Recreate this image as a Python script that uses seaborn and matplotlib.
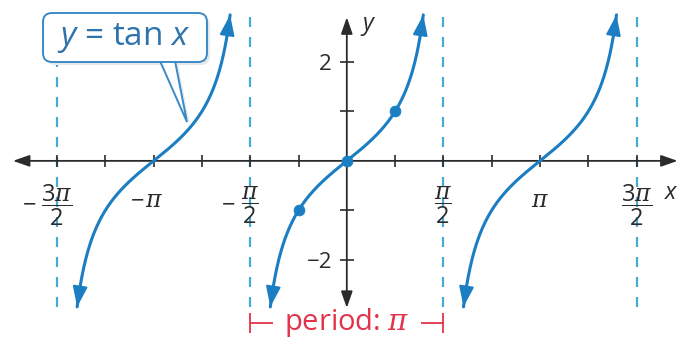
import numpy as np
import pandas as pd
import matplotlib
matplotlib.use("Agg")
import matplotlib.pyplot as plt
import seaborn as sns
from matplotlib.patches import FancyBboxPatch, Polygon
from matplotlib.transforms import Affine2D

# ---- data -------------------------------------------------------------
branch_centers = [-np.pi, 0.0, np.pi]          # zeros of tan x shown
branch_limit = 2.95                            # |tan x| where each branch ends
asymptotes = [-1.5 * np.pi, -0.5 * np.pi, 0.5 * np.pi, 1.5 * np.pi]
key_x = [-np.pi / 4, 0.0, np.pi / 4]
key_y = [-1.0, 0.0, 1.0]
x_tick_steps = [-6, -5, -4, -3, -2, -1, 1, 2, 3, 4, 5, 6]   # multiples of pi/4
x_label_steps = [-6, -4, -2, 2, 4, 6]
x_label_text = [r"$\dfrac{3\pi}{2}$", r"$\pi$", r"$\dfrac{\pi}{2}$",
                r"$\dfrac{\pi}{2}$", r"$\pi$", r"$\dfrac{3\pi}{2}$"]
y_tick_pos = [-2, -1, 1, 2]
y_label_pos = [2, -2]
y_label_text = ["2", "\u22122"]

# ---- style ------------------------------------------------------------
sns.set_style("white")
plt.rcParams["font.family"] = ["Open Sans", "DejaVu Sans"]
plt.rcParams["mathtext.fontset"] = "custom"
plt.rcParams["mathtext.rm"] = "Open Sans"
plt.rcParams["mathtext.it"] = "DejaVu Serif:italic"
plt.rcParams["mathtext.sf"] = "Open Sans:italic"

CURVE = "#1b7dc2"
ASYM = "#45aad6"
AXIS = "#2b2b2b"
RED = "#e2334a"
CALLOUT = "#3b8ac6"

fig = plt.figure(figsize=(6.85, 3.45), dpi=100)
ax = fig.add_axes([0, 0, 1, 1])
ax.set_xlim(-5.64, 5.50)
ax.set_ylim(-3.72, 3.25)
ax.axis("off")

# ---- tangent branches -------------------------------------------------
half = np.arctan(branch_limit)
rows = []
for i, c in enumerate(branch_centers):
    xs = np.linspace(c - half, c + half, 300)
    rows.append(pd.DataFrame({"x": xs, "y": np.tan(xs), "branch": i}))
curves = pd.concat(rows, ignore_index=True)
sns.lineplot(data=curves, x="x", y="y", units="branch", estimator=None,
             color=CURVE, lw=2.2, ax=ax, zorder=4, legend=False)

# arrowheads at both ends of each branch
head = "-|>,head_length=1.25,head_width=0.45"
for c in branch_centers:
    for sgn in (1, -1):
        x_end = c + sgn * half
        x_in = c + sgn * np.arctan(branch_limit - 0.45)
        ax.annotate("", xy=(x_end, np.tan(x_end)), xytext=(x_in, np.tan(x_in)),
                    arrowprops=dict(arrowstyle=head, color=CURVE, lw=1.5,
                                    shrinkA=0, shrinkB=0), zorder=5)

sns.scatterplot(x=key_x, y=key_y, s=60, color=CURVE, edgecolor=CURVE,
                ax=ax, zorder=6, legend=False)

# ---- asymptotes -------------------------------------------------------
ax.vlines(asymptotes, -2.95, 3.05, colors=ASYM, lw=1.6,
          linestyles=(0, (4.5, 4.5)), zorder=2)

# ---- axes with arrows -------------------------------------------------
axis_head = "<|-|>,head_length=1.0,head_width=0.35"
ax.annotate("", xy=(5.38, 0), xytext=(-5.43, 0),
            arrowprops=dict(arrowstyle=axis_head, color=AXIS, lw=1.3,
                            shrinkA=0, shrinkB=0), zorder=3)
ax.annotate("", xy=(0, 2.90), xytext=(0, -2.97),
            arrowprops=dict(arrowstyle=axis_head, color=AXIS, lw=1.3,
                            shrinkA=0, shrinkB=0), zorder=3)

x_ticks = [k * np.pi / 4 for k in x_tick_steps]
ax.vlines(x_ticks, -0.12, 0.12, colors=AXIS, lw=1.2, zorder=3)
ax.hlines(y_tick_pos, -0.11, 0.11, colors=AXIS, lw=1.2, zorder=3)

# tick labels
for k, lab in zip(x_label_steps, x_label_text):
    xv = k * np.pi / 4
    is_frac = "dfrac" in lab
    yv = -0.89 if is_frac else -0.81
    ax.text(xv, yv, lab, ha="center", va="center",
            fontsize=17 if is_frac else 17, color=AXIS)
    if k < 0:
        off = (-15 if k == -6 else -11) if is_frac else -7
        ax.annotate("\u2212", xy=(xv, yv), xytext=(off, 0),
                    textcoords="offset points", ha="right", va="center",
                    fontsize=17, color=AXIS)
for yv, lab in zip(y_label_pos, y_label_text):
    ax.text(-0.24, yv - 0.06, lab, ha="right", va="center", fontsize=16, color=AXIS)

ax.text(0.34, 2.72, r"$\mathsf{y}$", ha="center", va="center", fontsize=17, color=AXIS)
ax.text(5.28, -0.65, r"$\mathsf{x}$", ha="center", va="center", fontsize=17, color=AXIS)

# ---- callout ----------------------------------------------------------
pix = Affine2D().scale(1 / 685, -1 / 345).translate(0, 1) + fig.transFigure
shadow = FancyBboxPatch((46, 16), 164, 49, boxstyle="round,pad=0,rounding_size=9",
                        transform=pix, fc="#e6e9ec", ec="none", zorder=7)
tail_shadow = Polygon([(163, 64), (178, 64), (190, 125)], closed=True,
                      transform=pix, fc="#e6e9ec", ec="none", zorder=7)
tail = Polygon([(160, 61), (175, 61), (187, 122)], closed=True, transform=pix,
               fc="white", ec=CALLOUT, lw=1.4, zorder=8)
box = FancyBboxPatch((43, 13), 164, 49, boxstyle="round,pad=0,rounding_size=9",
                     transform=pix, fc="white", ec=CALLOUT, lw=1.4, zorder=9)
for p in (shadow, tail_shadow, tail, box):
    fig.add_artist(p)
gap, = ax.plot([161.4, 173.6], [62, 62], transform=pix, color="white",
               lw=2.6, solid_capstyle="butt", zorder=10)
fig.text(124 / 685, 1 - 38 / 345, r"$\mathsf{y}$ = tan $\mathsf{x}$",
         ha="center", va="center", fontsize=24, color="#2f73ad", zorder=11)

# ---- period marker ----------------------------------------------------
per_y = -3.27
ax.vlines([-np.pi / 2, np.pi / 2], per_y - 0.2, per_y + 0.2, colors=RED, lw=1.3)
ax.hlines(per_y, -np.pi / 2, -np.pi / 2 + 0.37, colors=RED, lw=1.3)
ax.hlines(per_y, np.pi / 2 - 0.37, np.pi / 2, colors=RED, lw=1.3)
ax.text(0, per_y, r"period: $\pi$", ha="center", va="center",
        fontsize=21, color=RED)

fig.savefig("out.png", dpi=100)
